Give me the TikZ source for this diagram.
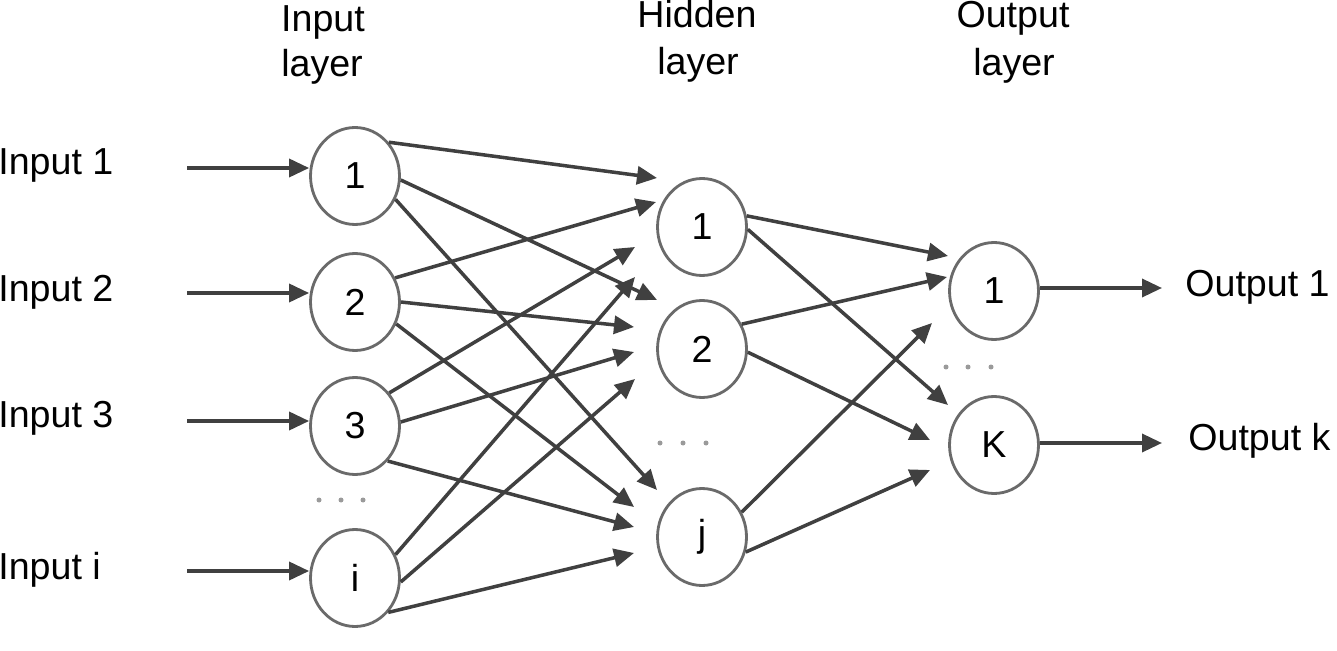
\documentclass[tikz,border=0pt]{standalone}
\usepackage{fontspec}
\setmainfont{Liberation Sans}
\usetikzlibrary{arrows.meta,calc,shapes.geometric}
\definecolor{linegray}{HTML}{404040}
\definecolor{circgray}{HTML}{6A6A6A}
\definecolor{dotgray}{HTML}{9A9A9A}
\begin{document}
\begin{tikzpicture}[x=0.02cm,y=-0.02cm,
  neuron/.style={ellipse,draw=circgray,line width=1.6pt,minimum width=1.78cm,minimum height=1.94cm,inner sep=0pt,font=\fontsize{21.4pt}{25pt}\selectfont},
  conn/.style={draw=linegray,line width=2pt,-{Triangle[length=0.40cm,width=0.36cm]}},
  lbl/.style={inner sep=0pt,font=\fontsize{21.4pt}{25pt}\selectfont},
  dotmark/.style={fill=dotgray}]
\useasboundingbox[fill=white] (0,0) rectangle (1337,651);

% headers
\node[lbl,anchor=base] (hin1) at (323,32) {Input};
\node[lbl,anchor=base] (hin2) at (322,77) {layer};
\node[lbl,anchor=base] (hhid1) at (697,28) {Hidden};
\node[lbl,anchor=base] (hhid2) at (698,75) {layer};
\node[lbl,anchor=base] (hout1) at (1013,28) {Output};
\node[lbl,anchor=base] (hout2) at (1014,76) {layer};

% input labels
\node[lbl,anchor=base west] (l1) at (-2,175) {Input 1};
\node[lbl,anchor=base west] (l2) at (-2,302) {Input 2};
\node[lbl,anchor=base west] (l3) at (-2,427) {Input 3};
\node[lbl,anchor=base west] (l4) at (-2,579) {Input i};

% output labels
\node[lbl,anchor=base west] (r1) at (1185,297) {Output 1};
\node[lbl,anchor=base west] (r2) at (1188,450) {Output k};

% neurons
\node[neuron] (i1) at (355,176) {1};
\node[neuron] (i2) at (355,302) {2};
\node[neuron] (i3) at (355,426) {3};
\node[neuron] (ii) at (355,578) {i};
\node[neuron] (h1) at (702,227) {1};
\node[neuron] (h2) at (702,349) {2};
\node[neuron] (hj) at (702,537) {j};
\node[neuron] (o1) at (994,291) {1};
\node[neuron] (ok) at (994,445) {K};

% ellipsis dots
\foreach \x in {319,341,363} \fill[dotmark] (\x,500) circle (0.05cm);
\foreach \x in {660,683,706} \fill[dotmark] (\x,443) circle (0.05cm);
\foreach \x in {946,968,991} \fill[dotmark] (\x,367) circle (0.05cm);

% input arrows
\coordinate (s1) at (187,168);
\coordinate (s2) at (187,293);
\coordinate (s3) at (187,421);
\coordinate (s4) at (187,571);
\draw[conn] (s1) -- (s1 -| i1.west);
\draw[conn] (s2) -- (s2 -| i2.west);
\draw[conn] (s3) -- (s3 -| i3.west);
\draw[conn] (s4) -- (s4 -| ii.west);

% input -> hidden
\draw[conn] (i1.45) -- ($(h1)+(-45,-49)$);
\draw[conn] (i2.31) -- ($(h1)+(-46,-25)$);
\draw[conn] (i3.44) -- ($(h1)+(-67,20)$);
\draw[conn] (ii.30) -- ($(h1)+(-67,50)$);

\draw[conn] (i1.-5) -- ($(h2)+(-45,-49)$);
\draw[conn] (i2.0) -- ($(h2)+(-68,-22)$);
\draw[conn] (i3.5) -- ($(h2)+(-68,3)$);
\draw[conn] (ii.-5) -- ($(h2)+(-67,30)$);

\draw[conn] (i1.-30) -- ($(hj)+(-45,-47)$);
\draw[conn] (i2.-28) -- ($(hj)+(-68,-30)$);
\draw[conn] (i3.-47) -- ($(hj)+(-68,-10)$);
\draw[conn] (ii.-46) -- ($(hj)+(-68,16)$);

% hidden -> output
\draw[conn] (h1.14) -- ($(o1)+(-46,-35)$);
\draw[conn] (h2.32) -- ($(o1)+(-47,-14)$);
\draw[conn] (hj.32) -- ($(o1)+(-62,32)$);

\draw[conn] (h1.-3) -- ($(ok)+(-46,-40)$);
\draw[conn] (h2.-4) -- ($(ok)+(-64,-5)$);
\draw[conn] (hj.-19) -- ($(ok)+(-64,25)$);

% output arrows
\coordinate (t1) at (1162,288);
\coordinate (t2) at (1162,443);
\draw[conn] (o1.east |- t1) -- (t1);
\draw[conn] (ok.east |- t2) -- (t2);
\end{tikzpicture}
\end{document}
